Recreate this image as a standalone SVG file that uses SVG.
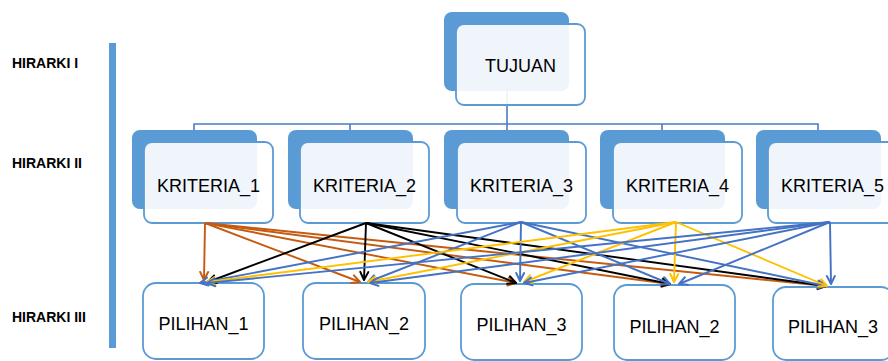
<svg xmlns="http://www.w3.org/2000/svg" width="888" height="361" viewBox="0 0 888 361">
<defs>
<style>
.back{fill:#5B9BD5;}
.front{fill:#ffffff;fill-opacity:0.9;stroke:#5B9BD5;stroke-width:1.8;}
.leaf{fill:#ffffff;stroke:#5B9BD5;stroke-width:1.8;}
.t{font-family:"Liberation Sans",Arial,sans-serif;font-size:18px;fill:#000;text-anchor:middle;}
.lvl{font-family:"Liberation Sans",Arial,sans-serif;font-size:14px;font-weight:bold;fill:#000;}
.tree{fill:none;stroke:#4A7EBB;stroke-width:1.6;}
.a{fill:none;stroke-width:1.9;}
.o{stroke:#C55A11;marker-end:url(#mo);}
.k{stroke:#000000;marker-end:url(#mk);}
.b{stroke:#4472C4;marker-end:url(#mb);}
.y{stroke:#FFC000;marker-end:url(#my);}
</style>
<marker id="mo" markerUnits="userSpaceOnUse" orient="auto" refX="0" refY="0" markerWidth="20" markerHeight="20" viewBox="-10 -10 20 20" overflow="visible"><path d="M-8,-4 L0,0 L-8,4" fill="none" stroke="#C55A11" stroke-width="2" stroke-linecap="round" stroke-linejoin="round"/></marker>
<marker id="mk" markerUnits="userSpaceOnUse" orient="auto" refX="0" refY="0" markerWidth="20" markerHeight="20" viewBox="-10 -10 20 20" overflow="visible"><path d="M-8,-4 L0,0 L-8,4" fill="none" stroke="#000000" stroke-width="2" stroke-linecap="round" stroke-linejoin="round"/></marker>
<marker id="mb" markerUnits="userSpaceOnUse" orient="auto" refX="0" refY="0" markerWidth="20" markerHeight="20" viewBox="-10 -10 20 20" overflow="visible"><path d="M-8,-4 L0,0 L-8,4" fill="none" stroke="#4472C4" stroke-width="2" stroke-linecap="round" stroke-linejoin="round"/></marker>
<marker id="my" markerUnits="userSpaceOnUse" orient="auto" refX="0" refY="0" markerWidth="20" markerHeight="20" viewBox="-10 -10 20 20" overflow="visible"><path d="M-8,-4 L0,0 L-8,4" fill="none" stroke="#FFC000" stroke-width="2" stroke-linecap="round" stroke-linejoin="round"/></marker>
</defs>
<rect width="888" height="361" fill="#ffffff"/>

<g id="levels">
<rect x="109" y="43" width="7" height="305" fill="#5B9BD5"/>
<text class="lvl" x="12" y="68">HIRARKI I</text>
<text class="lvl" x="12" y="168">HIRARKI II</text>
<text class="lvl" x="12" y="322">HIRARKI III</text>
</g>

<g id="tree-connectors">
<path class="tree" d="M507,91 V124 M194,130 V124 H818 V130 M350,124 V130 M507,124 V130 M662,124 V130"/>
</g>

<g id="tujuan">
<rect class="back" x="444" y="12" width="125" height="79" rx="8"/>
<rect class="front" x="456" y="24" width="129" height="81" rx="8"/>
<text class="t" x="520.5" y="72">TUJUAN</text>
</g>

<g id="kriteria1">
<rect class="back" x="132" y="130" width="125" height="79" rx="8"/>
<rect class="front" x="144" y="142" width="129" height="81" rx="8"/>
<text class="t" x="208.5" y="192">KRITERIA_1</text>
</g>
<g id="kriteria2">
<rect class="back" x="288" y="130" width="125" height="79" rx="8"/>
<rect class="front" x="300" y="142" width="129" height="81" rx="8"/>
<text class="t" x="364.5" y="192">KRITERIA_2</text>
</g>
<g id="kriteria3">
<rect class="back" x="444" y="130" width="125" height="79" rx="8"/>
<rect class="front" x="457" y="142" width="129" height="81" rx="8"/>
<text class="t" x="521.5" y="192">KRITERIA_3</text>
</g>
<g id="kriteria4">
<rect class="back" x="600" y="130" width="125" height="79" rx="8"/>
<rect class="front" x="613" y="142" width="129" height="81" rx="8"/>
<text class="t" x="677.5" y="192">KRITERIA_4</text>
</g>
<g id="kriteria5">
<rect class="back" x="756" y="130" width="125" height="79" rx="8"/>
<rect class="front" x="768" y="142" width="129" height="81" rx="8"/>
<text class="t" x="832.5" y="192">KRITERIA_5</text>
</g>

<g id="pilihan1">
<rect class="leaf" x="143" y="283" width="121" height="76" rx="13"/>
<text class="t" x="203.5" y="330">PILIHAN_1</text>
</g>
<g id="pilihan2">
<rect class="leaf" x="303" y="283" width="122" height="76" rx="13"/>
<text class="t" x="364" y="330">PILIHAN_2</text>
</g>
<g id="pilihan3">
<rect class="leaf" x="461" y="284" width="121" height="76" rx="13"/>
<text class="t" x="521.5" y="331">PILIHAN_3</text>
</g>
<g id="pilihan2b">
<rect class="leaf" x="614" y="285" width="121" height="75" rx="13"/>
<text class="t" x="674.5" y="333">PILIHAN_2</text>
</g>
<g id="pilihan3b">
<rect class="leaf" x="773" y="287" width="121" height="73" rx="13"/>
<text class="t" x="833" y="333">PILIHAN_3</text>
</g>

<g id="arrows">
<line class="a o" x1="205" y1="223" x2="204" y2="280"/>
<line class="a o" x1="205" y1="223" x2="360" y2="282"/>
<line class="a o" x1="205" y1="223" x2="516" y2="283"/>
<line class="a o" x1="205" y1="223" x2="670" y2="284"/>
<line class="a o" x1="205" y1="223" x2="826" y2="286"/>

<line class="a k" x1="366" y1="223" x2="208" y2="282"/>
<line class="a k" x1="366" y1="223" x2="364" y2="280"/>
<line class="a k" x1="366" y1="223" x2="516" y2="283"/>
<line class="a k" x1="366" y1="223" x2="670" y2="284"/>
<line class="a k" x1="366" y1="223" x2="826" y2="286"/>

<line class="a b" x1="521" y1="222" x2="200" y2="283"/>
<line class="a b" x1="521" y1="222" x2="368" y2="282"/>
<line class="a b" x1="521" y1="222" x2="520" y2="281"/>
<line class="a b" x1="521" y1="222" x2="670" y2="284"/>
<line class="a b" x1="521" y1="222" x2="826" y2="286"/>

<line class="a y" x1="676" y1="222" x2="207" y2="282"/>
<line class="a y" x1="676" y1="222" x2="368" y2="282"/>
<line class="a y" x1="676" y1="222" x2="524" y2="282"/>
<line class="a y" x1="676" y1="222" x2="674" y2="282"/>
<line class="a y" x1="676" y1="222" x2="827" y2="286"/>

<line class="a b" x1="830" y1="222" x2="207" y2="283"/>
<line class="a b" x1="830" y1="222" x2="370" y2="283"/>
<line class="a b" x1="830" y1="222" x2="524" y2="283"/>
<line class="a b" x1="830" y1="222" x2="679" y2="284"/>
<line class="a b" x1="830" y1="222" x2="831" y2="284"/>
</g>
</svg>
